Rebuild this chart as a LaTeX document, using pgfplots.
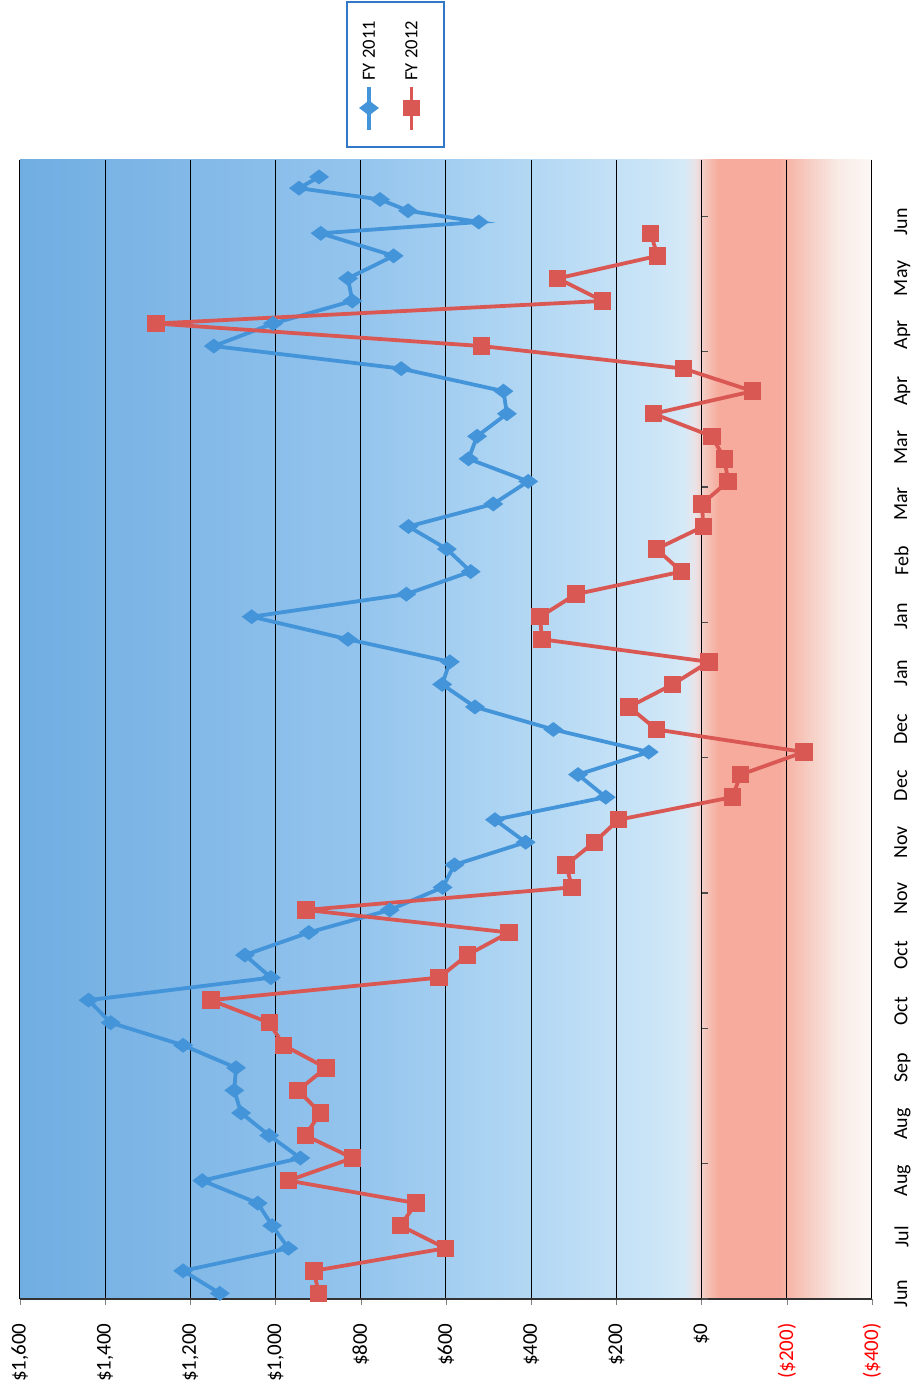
\documentclass[border=0pt]{standalone}
\usepackage{fontspec}
\setmainfont{Carlito}
\usepackage{pgfplots}
\pgfplotsset{compat=1.18}
\definecolor{serA}{RGB}{68,148,218}
\definecolor{serB}{RGB}{218,88,84}
\definecolor{legbox}{RGB}{50,120,200}
\pgfdeclarehorizontalshading{bgshade}{100bp}{rgb(0bp)=(0.44,0.68,0.885);%
rgb(25bp)=(0.44,0.68,0.885);%
rgb(45bp)=(0.58,0.77,0.93);%
rgb(55bp)=(0.70,0.845,0.955);%
rgb(62.5bp)=(0.80,0.90,0.97);%
rgb(64bp)=(0.84,0.915,0.97);%
rgb(64.6bp)=(0.92,0.89,0.91);%
rgb(65.25bp)=(0.96,0.77,0.73);%
rgb(66bp)=(0.965,0.67,0.61);%
rgb(69.5bp)=(0.965,0.67,0.61);%
rgb(71.25bp)=(0.965,0.80,0.76);%
rgb(73bp)=(0.975,0.92,0.90);%
rgb(75bp)=(0.99,0.975,0.965);%
rgb(100bp)=(0.99,0.975,0.965)}
\begin{document}
\begin{tikzpicture}
\begin{axis}[
  name=main, at={(0pt,0pt)}, anchor=south west,
  scale only axis, width=426pt, height=569.5pt,
  xmin=-400, xmax=1600, x dir=reverse,
  ymin=-0.5, ymax=100.5,
  axis background/.style={shade, shading=bgshade},
  xtick={-400,-200,...,1600},
  xticklabels={{\textcolor{red}{(\$400)}},{\textcolor{red}{(\$200)}},{\$0},{\$200},{\$400},{\$600},{\$800},{\$1,000},{\$1,200},{\$1,400},{\$1,600}},
  ytick={0,5,...,95},
  yticklabels={Jun,Jul,Aug,Aug,Sep,Oct,Oct,Nov,Nov,Dec,Dec,Jan,Jan,Feb,Mar,Mar,Apr,Apr,May,Jun},
  axis x line*=bottom,
  axis y line*=right,
  y axis line style={draw=none},
  x axis line style={black!80, line width=0.6pt},
  tick align=outside,
  major tick length=3pt,
  ytick style={draw=none},
  xmajorgrids,
  major grid style={black, line width=0.5pt},
  xticklabel style={rotate=90, anchor=east, font=\fontsize{10.5}{12}\selectfont, inner sep=0pt},
  xticklabel shift=9pt,
  yticklabel style={rotate=90, anchor=north, font=\fontsize{10}{12}\selectfont, inner sep=0pt},
  yticklabel shift=8pt,
]
\addplot[serA, line width=1.9pt, mark=diamond*, mark size=3.4pt, mark options={rotate=90, solid}] coordinates {
(1131,0) (1217,2) (970,4) (1008,6) (1042,8) (1172,10) (942,12) (1015,14) (1081,16) (1097,18)
(1093,20) (1217,22) (1387,24) (1439,26) (1011,28) (1072,30) (922,32) (732,34) (608,36) (580,38)
(413,40) (485,42) (225,44) (290,46) (124,48) (348,50) (532,52) (609,54) (591,56) (830,58)
(1056,60) (693,62) (542,64) (598,66) (688,68) (489,70) (407,72) (547,74) (527,76) (457,78)
(465,80) (705,82) (1145,84) (1006,86) (820,88) (830,90) (723,92) (894,94) (523,95) (689,96)
(755,97) (945,98) (898,99)};
\addplot[serB, line width=1.9pt, mark=square*, mark size=3.4pt, mark options={solid}] coordinates {
(899,0) (910,2) (601,4) (707,6) (670,8) (970,10) (819,12) (930,14) (895,16) (947,18)
(882,20) (981,22) (1015,24) (1152,26) (616,28) (550,30) (452,32) (929,34) (304,36) (318,38)
(252,40) (195,42) (-72,44) (-92,46) (-240,48) (106,50) (170,52) (68,54) (-17,56) (375,58)
(379,60) (295,62) (47,64) (106,66) (-4,68) (-1,70) (-62,72) (-54,74) (-24,76) (113,78)
(-120,80) (42,82) (516,84) (1281,86) (232,88) (338,90) (103,92) (120,94)};
\pgfplotsinvokeforeach{-0.5,11.5,23.5,35.5,47.5,59.5,71.5,83.5,95.5}{
  \draw[black!70, line width=0.6pt] (axis cs:0,#1) -- (axis cs:-14,#1);
}
\end{axis}
% legend box, drawn as a small axis of its own (rotated layout)
\begin{axis}[
  at={(163.5pt,576pt)}, anchor=south west,
  scale only axis, width=48.5pt, height=72.5pt,
  xmin=0, xmax=48.5, ymin=0, ymax=72.5,
  axis line style={legbox, line width=0.6pt},
  xtick=\empty, ytick=\empty,
  axis background/.style={fill=white},
  clip=false,
]
\addplot[serA, line width=1.9pt, mark=diamond*, mark size=3.4pt, mark options={rotate=90, solid}, mark indices={2}] coordinates {(11,8.5) (11,19.5) (11,30)};
\addplot[serB, line width=1.9pt, mark=square*, mark size=3.2pt, mark options={solid}, mark indices={2}] coordinates {(32.25,8.5) (32.25,19.5) (32.25,30)};
\node[rotate=90, anchor=west, inner sep=0pt, font=\fontsize{9.3}{11}\selectfont] at (axis cs:11,33) {FY 2011};
\node[rotate=90, anchor=west, inner sep=0pt, font=\fontsize{9.3}{11}\selectfont] at (axis cs:32.25,33) {FY 2012};
\end{axis}
\pgfresetboundingbox
\path[use as bounding box] (-10pt,-47pt) rectangle (447.5pt,649.5pt);
\end{tikzpicture}
\end{document}
